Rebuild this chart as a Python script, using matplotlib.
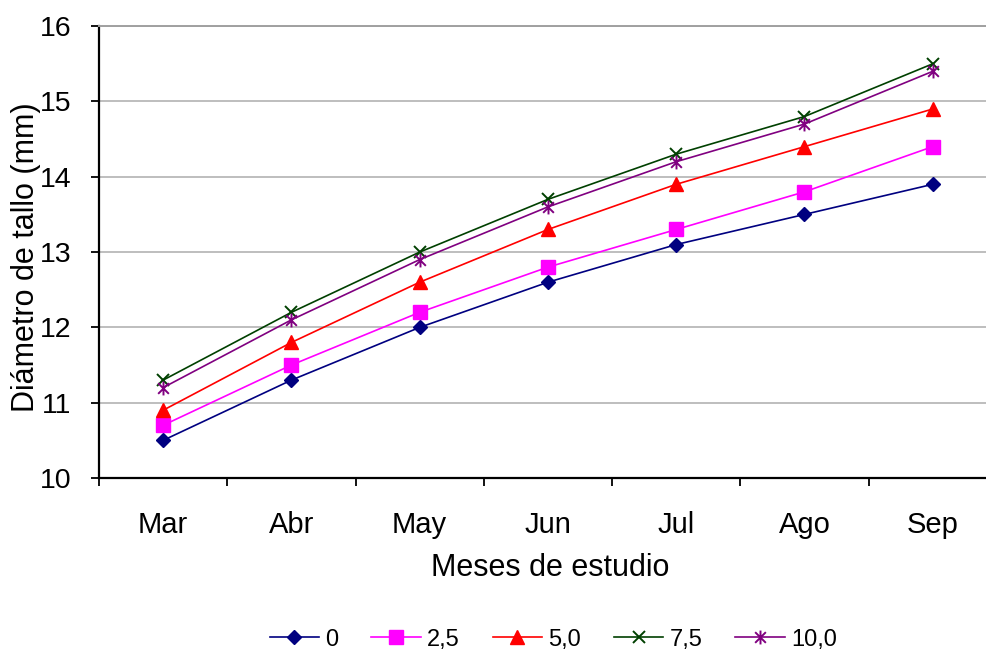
import numpy as np
import matplotlib.pyplot as plt
from matplotlib.path import Path

meses = ["Mar", "Abr", "May", "Jun", "Jul", "Ago", "Sep"]
dosis = ["0", "2,5", "5,0", "7,5", "10,0"]
d_0 = [10.5, 11.3, 12.0, 12.6, 13.1, 13.5, 13.9]
d_25 = [10.7, 11.5, 12.2, 12.8, 13.3, 13.8, 14.4]
d_50 = [10.9, 11.8, 12.6, 13.3, 13.9, 14.4, 14.9]
d_75 = [11.3, 12.2, 13.0, 13.7, 14.3, 14.8, 15.5]
d_100 = [11.2, 12.1, 12.9, 13.6, 14.2, 14.7, 15.4]
series = [d_0, d_25, d_50, d_75, d_100]

plt.rcParams['font.family'] = ['Liberation Sans', 'DejaVu Sans']

# asterisco estilo Excel: x + barra vertical
ast = Path([(-1, -1), (1, 1), (-1, 1), (1, -1), (0, -1.3), (0, 1.3)],
           [Path.MOVETO, Path.LINETO, Path.MOVETO, Path.LINETO, Path.MOVETO, Path.LINETO])

estilos = [
    dict(color="#000080", marker="D", markersize=7.5),
    dict(color="#FF00FF", marker="s", markersize=10),
    dict(color="#FF0000", marker="^", markersize=10),
    dict(color="#004000", marker="x", markersize=9, markeredgewidth=1.4),
    dict(color="#800080", marker=ast, markersize=10, markeredgewidth=1.4),
]

fig = plt.figure(figsize=(9.86, 6.54), dpi=100)
ax = fig.add_axes([0.1004, 0.2691, 0.9106, 0.6909])

x = np.arange(len(meses))
for vals, lab, st in zip(series, dosis, estilos):
    ax.plot(x, vals, label=lab, linewidth=1.2, **st)

ax.set_ylim(10, 16)
ax.set_xlim(-0.5, len(meses) - 0.5)
ax.set_yticks(np.arange(10, 17, 1))
ax.set_xticks(x)
ax.set_xticklabels(meses)
ax.set_xticks(np.arange(-0.5, len(meses), 1), minor=True)
ax.tick_params(axis="x", which="major", length=0, pad=24, labelsize=21)
ax.tick_params(axis="x", which="minor", length=6, width=1.3, direction="out")
ax.tick_params(axis="y", length=6, width=1.3, direction="out", pad=14, labelsize=20.5)

ax.grid(axis="y", color="#BEBEBE", linewidth=1.4)
ax.set_axisbelow(True)
ax.spines["right"].set_visible(False)
ax.spines["top"].set_color("#A0A0A0")
ax.spines["top"].set_linewidth(1.4)
ax.spines["left"].set_linewidth(1.6)
ax.spines["bottom"].set_linewidth(1.6)

ax.set_xlabel("Meses de estudio", fontsize=22)
ax.set_ylabel("Diámetro de tallo (mm)", fontsize=22)
ax.xaxis.set_label_coords(0.502, -0.166)
ax.yaxis.set_label_coords(-0.0645, 0.489)

fig.legend(loc="center", bbox_to_anchor=(0.561, 0.022), ncol=5, frameon=False,
           fontsize=17, handlelength=2.1, columnspacing=1.4, handletextpad=0.25)

fig.savefig("out.png", dpi=100)
